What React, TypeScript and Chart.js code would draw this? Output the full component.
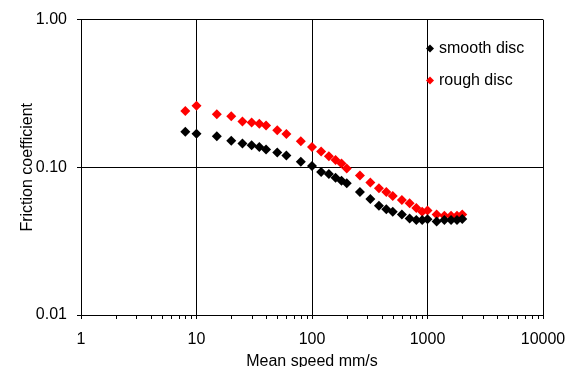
import React, { useEffect, useRef } from 'react';
import { Chart, registerables } from 'chart.js';

Chart.register(...registerables);

// Mean speed (mm/s)
const speeds = [8, 10, 15, 20, 25, 30, 35, 40, 50, 60, 80, 100, 120, 140, 160, 180, 200, 260, 320, 380, 440, 500, 600, 700, 800, 900, 1000, 1200, 1400, 1600, 1800, 2000];
// Friction coefficient – smooth disc
const smoothDisc = [0.174, 0.169, 0.162, 0.151, 0.145, 0.141, 0.137, 0.132, 0.126, 0.120, 0.109, 0.102, 0.093, 0.090, 0.085, 0.081, 0.078, 0.068, 0.061, 0.055, 0.052, 0.050, 0.048, 0.045, 0.044, 0.044, 0.0445, 0.043, 0.044, 0.044, 0.044, 0.0447];
// Friction coefficient – rough disc
const roughDisc = [0.241, 0.261, 0.229, 0.222, 0.204, 0.201, 0.197, 0.192, 0.178, 0.168, 0.150, 0.137, 0.128, 0.119, 0.112, 0.106, 0.098, 0.088, 0.079, 0.072, 0.068, 0.064, 0.060, 0.057, 0.053, 0.050, 0.051, 0.048, 0.047, 0.047, 0.047, 0.048];

const seriesNames = ['smooth disc', 'rough disc'];
const xTicks = [1, 10, 100, 1000, 10000];
const xTickLabels = ['1', '10', '100', '1000', '10000'];
const yTicks = [0.01, 0.1, 1];
const yTickLabels = ['0.01', '0.10', '1.00'];
const xTitle = 'Mean speed mm/s';
const yTitle = 'Friction coefficient';

const FONT = "'Liberation Sans', Arial, sans-serif";
const colors = ['#000000', '#ff0000'];

const minorTicksPlugin = {
  id: 'minorTicks',
  afterDatasetsDraw(chart: any) {
    const xs = chart.scales.x;
    const ctx = chart.ctx;
    const bottom = chart.chartArea.bottom;
    ctx.save();
    ctx.strokeStyle = '#000';
    ctx.lineWidth = 1;
    ctx.beginPath();
    for (let d = 1; d < 10000; d *= 10) {
      for (let k = 2; k <= 9; k++) {
        const px = Math.round(xs.getPixelForValue(k * d)) + 0.5;
        ctx.moveTo(px, bottom);
        ctx.lineTo(px, bottom + 4);
      }
    }
    ctx.stroke();
    ctx.restore();
  },
};

const innerLegendPlugin = {
  id: 'innerLegend',
  afterDraw(chart: any) {
    const ctx = chart.ctx;
    const area = chart.chartArea;
    const mx = area.right - 113;
    const rows = [area.top + 29, area.top + 61];
    ctx.save();
    ctx.font = `16px ${FONT}`;
    ctx.textBaseline = 'middle';
    ctx.textAlign = 'left';
    chart.data.datasets.forEach((ds: any, i: number) => {
      const y = rows[i];
      const r = 4;
      ctx.fillStyle = ds.backgroundColor;
      ctx.beginPath();
      ctx.moveTo(mx, y - r);
      ctx.lineTo(mx + r, y);
      ctx.lineTo(mx, y + r);
      ctx.lineTo(mx - r, y);
      ctx.closePath();
      ctx.fill();
      ctx.fillStyle = '#000';
      ctx.fillText(ds.label, mx + 9, y);
    });
    ctx.restore();
  },
};

export default function App() {
  const canvasRef = useRef<HTMLCanvasElement | null>(null);

  useEffect(() => {
    if (!canvasRef.current) return;
    const datasets = [smoothDisc, roughDisc].map((vals, i) => ({
      label: seriesNames[i],
      data: speeds.map((x, j) => ({ x, y: vals[j] })),
      backgroundColor: colors[i],
      borderColor: colors[i],
      borderWidth: 0,
      pointStyle: 'rectRot' as const,
      pointRadius: 5,
      pointHoverRadius: 5,
      showLine: false,
    }));

    const chart = new Chart(canvasRef.current, {
      type: 'scatter',
      data: { datasets },
      plugins: [minorTicksPlugin, innerLegendPlugin],
      options: {
        animation: false,
        responsive: true,
        maintainAspectRatio: false,
        layout: { padding: { top: 19.5, right: 37, left: 0, bottom: 0 } },
        plugins: {
          legend: { display: false },
          tooltip: { enabled: false },
        },
        scales: {
          x: {
            type: 'logarithmic',
            min: 1,
            max: 10000,
            afterBuildTicks: (s: any) => {
              s.ticks = xTicks.map((v) => ({ value: v, major: true }));
            },
            afterFit: (s: any) => {
              s.height = 52;
            },
            grid: { color: '#000', lineWidth: 1, drawTicks: true, tickLength: 4 },
            border: { color: '#000', width: 1 },
            ticks: {
              color: '#000',
              font: { family: FONT, size: 16 },
              padding: 11,
              maxRotation: 0,
              autoSkip: false,
              callback: (v: any) => {
                const i = xTicks.indexOf(Number(v));
                return i >= 0 ? xTickLabels[i] : '';
              },
            },
            title: {
              display: true,
              text: xTitle,
              color: '#000',
              font: { family: FONT, size: 16 },
              padding: { top: 0, bottom: -4.3 },
            },
          },
          y: {
            type: 'logarithmic',
            min: 0.01,
            max: 1,
            afterBuildTicks: (s: any) => {
              s.ticks = yTicks.map((v) => ({ value: v, major: true }));
            },
            afterFit: (s: any) => {
              s.width = 81;
            },
            grid: { color: '#000', lineWidth: 1, drawTicks: true, tickLength: 4 },
            border: { color: '#000', width: 1 },
            ticks: {
              color: '#000',
              font: { family: FONT, size: 16 },
              padding: 10,
              autoSkip: false,
              callback: (v: any) => {
                const i = yTicks.findIndex((t) => Math.abs(t - Number(v)) < 1e-9);
                return i >= 0 ? yTickLabels[i] : '';
              },
            },
            title: {
              display: true,
              text: yTitle,
              color: '#000',
              font: { family: FONT, size: 16 },
              padding: { top: 18.4, bottom: 0 },
            },
          },
        },
      },
    });
    return () => chart.destroy();
  }, []);

  return (
    <div style={{ position: 'absolute', left: 0, top: 0, width: 580, height: 367, background: '#fff' }}>
      <canvas ref={canvasRef} />
    </div>
  );
}
